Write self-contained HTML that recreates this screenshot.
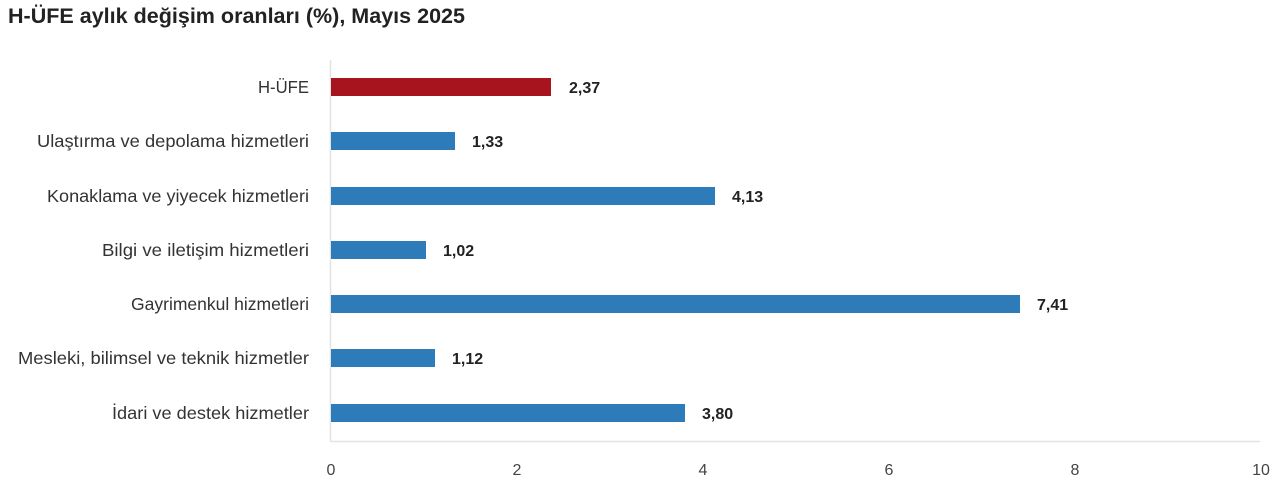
<!DOCTYPE html>
<html><head><meta charset="utf-8"><style>
body{margin:0;background:#fff;width:1280px;height:484px;overflow:hidden;font-family:"Liberation Sans",sans-serif}
</style></head><body>
<svg width="1280" height="484" xmlns="http://www.w3.org/2000/svg">
<text x="8" y="23" font-size="21" font-weight="bold" fill="#222" textLength="457" lengthAdjust="spacingAndGlyphs">H-ÜFE aylık değişim oranları (%), Mayıs 2025</text>
<line x1="330.5" y1="60" x2="330.5" y2="441" stroke="#e3e3e3" stroke-width="1.5"/>
<line x1="330" y1="441.5" x2="1260" y2="441.5" stroke="#e3e3e3" stroke-width="1.5"/>
<g font-size="17.5" fill="#333" text-anchor="end">
<text x="309" y="93" textLength="51" lengthAdjust="spacingAndGlyphs">H-ÜFE</text>
<text x="309" y="147" textLength="272" lengthAdjust="spacingAndGlyphs">Ulaştırma ve depolama hizmetleri</text>
<text x="309" y="202" textLength="262" lengthAdjust="spacingAndGlyphs">Konaklama ve yiyecek hizmetleri</text>
<text x="309" y="256" textLength="207" lengthAdjust="spacingAndGlyphs">Bilgi ve iletişim hizmetleri</text>
<text x="309" y="310">Gayrimenkul hizmetleri</text>
<text x="309" y="364" textLength="291" lengthAdjust="spacingAndGlyphs">Mesleki, bilimsel ve teknik hizmetler</text>
<text x="309" y="419" textLength="197" lengthAdjust="spacingAndGlyphs">İdari ve destek hizmetler</text>
</g>
<rect x="331" y="78" width="220" height="18" fill="#a8141e"/>
<rect x="331" y="132" width="124" height="18" fill="#2e7bba"/>
<rect x="331" y="187" width="384" height="18" fill="#2e7bba"/>
<rect x="331" y="241" width="95" height="18" fill="#2e7bba"/>
<rect x="331" y="295" width="689" height="18" fill="#2e7bba"/>
<rect x="331" y="349" width="104" height="18" fill="#2e7bba"/>
<rect x="331" y="404" width="354" height="18" fill="#2e7bba"/>
<g font-size="16" font-weight="bold" fill="#222">
<text x="569" y="93">2,37</text>
<text x="472" y="147">1,33</text>
<text x="732" y="202">4,13</text>
<text x="443" y="256">1,02</text>
<text x="1037" y="310">7,41</text>
<text x="452" y="364">1,12</text>
<text x="702" y="419">3,80</text>
</g>
<g font-size="16" fill="#444" text-anchor="middle">
<text x="331" y="475">0</text><text x="517" y="475">2</text><text x="703" y="475">4</text>
<text x="889" y="475">6</text><text x="1075" y="475">8</text><text x="1261" y="475">10</text>
</g>
</svg>
</body></html>
